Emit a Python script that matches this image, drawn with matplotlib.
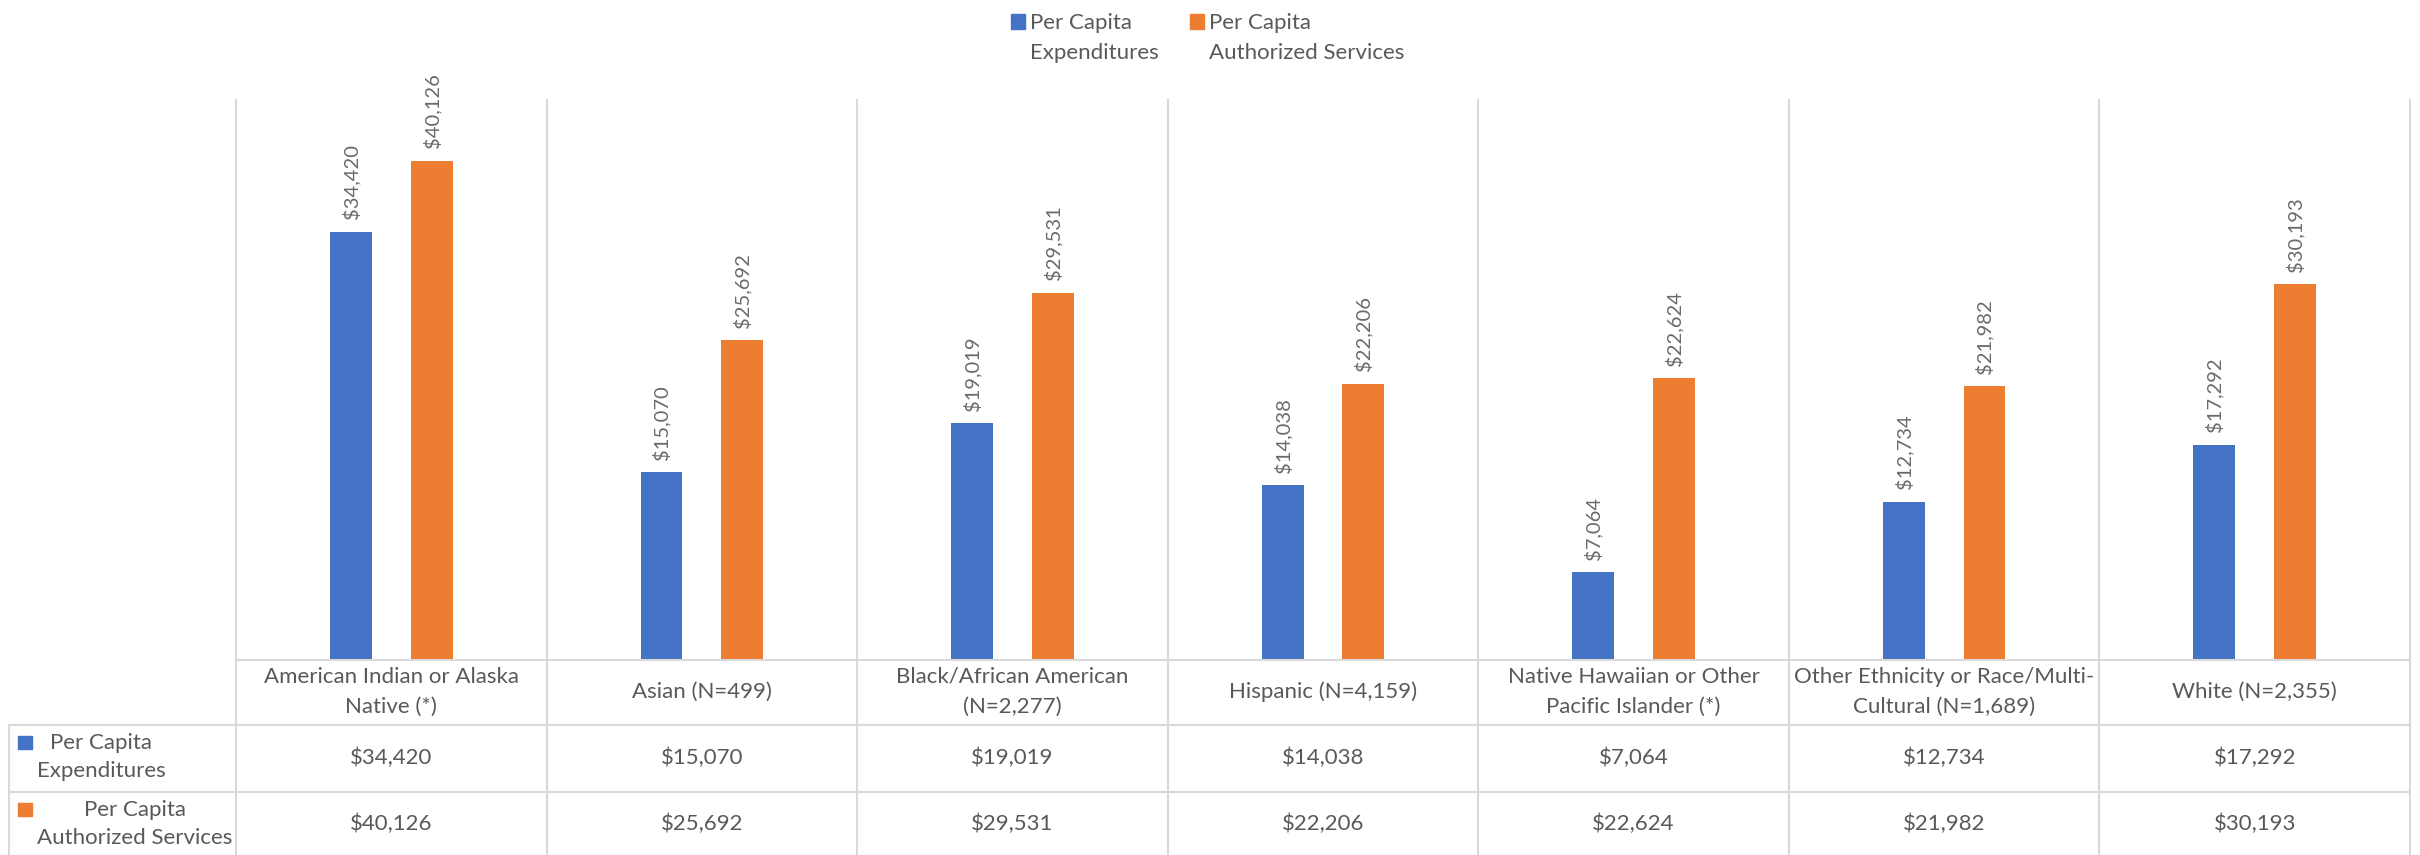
import matplotlib

matplotlib.use("Agg")
import matplotlib.pyplot as plt
import numpy as np
from matplotlib.patches import Rectangle
from matplotlib.transforms import blended_transform_factory

plt.rcParams["font.family"] = ["Lato", "DejaVu Sans"]

# данные
categories = [
    "American Indian or Alaska\nNative (*)",
    "Asian (N=499)",
    "Black/African American\n(N=2,277)",
    "Hispanic (N=4,159)",
    "Native Hawaiian or Other\nPacific Islander (*)",
    "Other Ethnicity or Race/Multi-\nCultural (N=1,689)",
    "White (N=2,355)",
]
expenditures = [34420, 15070, 19019, 14038, 7064, 12734, 17292]
authorized = [40126, 25692, 29531, 22206, 22624, 21982, 30193]
series_names = ["Per Capita\nExpenditures", "Per Capita\nAuthorized Services"]

BLUE = "#4472C4"
ORANGE = "#ED7D31"
GRID = "#D9D9D9"
TEXT = "#595959"
FS = 16

W, H = 2420, 855
fig = plt.figure(figsize=(W / 100, H / 100), dpi=100)


def fx(px):
    return px / W


def fy(py):
    return 1 - py / H


ax = fig.add_axes([fx(236), fy(660), fx(2410) - fx(236), fy(100) - fy(660)])
x = np.arange(len(categories))
bw = 0.135
off = 0.13
ax.bar(x - off, expenditures, bw, color=BLUE, zorder=3)
ax.bar(x + off, authorized, bw, color=ORANGE, zorder=3)
ax.set_xlim(-0.5, len(categories) - 0.5)
ax.set_ylim(0, 45000)
ax.axis("off")

# подписи значений над столбцами
for xs, vals in ((x - off, expenditures), (x + off, authorized)):
    for xi, v in zip(xs, vals):
        ax.annotate(f"${v:,}", (xi, v), xytext=(0, 9), textcoords="offset points",
                    rotation=90, ha="center", va="bottom", fontsize=14.5,
                    color="#6a6a6a", annotation_clip=False)

# таблица под графиком
trans = blended_transform_factory(ax.transData, fig.transFigure)
lw = 1.5
for b in np.arange(-0.5, len(categories)):
    ax.plot([b, b], [0, fy(100)], transform=trans, color=GRID, lw=lw,
            clip_on=False, zorder=1)
fig.add_artist(plt.Line2D([fx(236), fx(2410)], [fy(660), fy(660)], color=GRID, lw=lw))
for yy in (725, 792):
    fig.add_artist(plt.Line2D([fx(9), fx(2410)], [fy(yy), fy(yy)], color=GRID, lw=lw))
fig.add_artist(plt.Line2D([fx(9), fx(9)], [0, fy(725)], color=GRID, lw=lw))

for i, lab in enumerate(categories):
    ax.text(i, fy(692), lab, transform=trans, ha="center", va="center",
            fontsize=FS, color=TEXT, linespacing=1.65)
    ax.text(i, fy(758), f"${expenditures[i]:,}", transform=trans, ha="center",
            va="center", fontsize=FS, color=TEXT)
    ax.text(i, fy(824), f"${authorized[i]:,}", transform=trans, ha="center",
            va="center", fontsize=FS, color=TEXT)

for name, color, top in zip(series_names, (BLUE, ORANGE), (725, 792)):
    fig.add_artist(Rectangle((fx(18), fy(top + 24)), fx(14), 13 / H,
                             color=color, transform=fig.transFigure))
    fig.text(fx(37), fy(top + 32), name, ha="left", va="center",
             multialignment="center", fontsize=FS, color=TEXT, linespacing=1.5)

# легенда
for name, color, lx in zip(series_names, (BLUE, ORANGE), (1011, 1190)):
    fig.add_artist(Rectangle((fx(lx), fy(29)), fx(14), 15 / H,
                             color=color, transform=fig.transFigure))
    fig.text(fx(lx + 19), fy(38), name, ha="left", va="center",
             fontsize=FS, color=TEXT, linespacing=1.6)

fig.savefig("out.png", dpi=100)
plt.close(fig)
